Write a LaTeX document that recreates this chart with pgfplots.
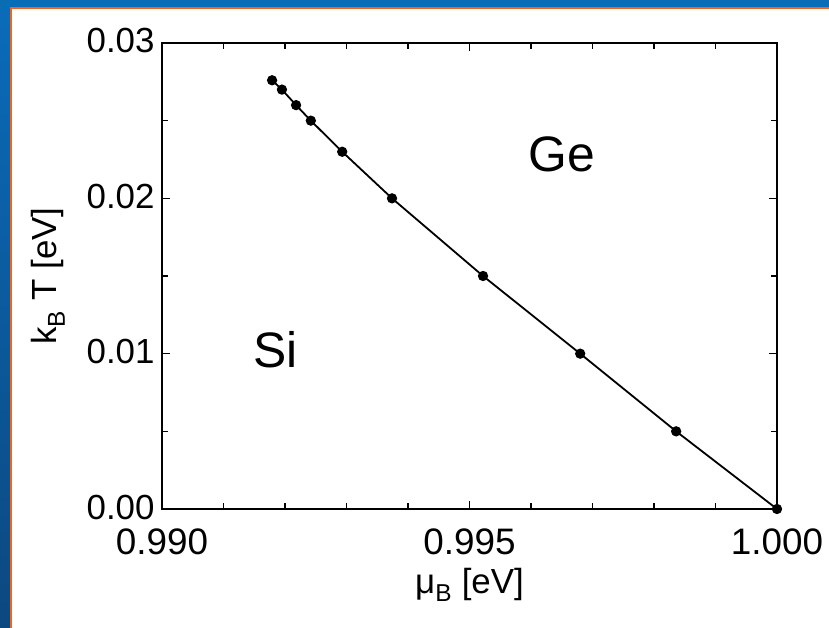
\documentclass[border=0pt]{standalone}
\usepackage{fontspec}
\setmainfont{Liberation Sans}
\usepackage{pgfplots}
\pgfplotsset{compat=1.18}
\usetikzlibrary{shadings}
\definecolor{frameblueA}{RGB}{10,108,185}
\definecolor{frameblueB}{RGB}{12,72,128}
\definecolor{frameorange}{RGB}{240,100,30}
\begin{document}
\begin{tikzpicture}
\useasboundingbox (0bp,0bp) rectangle (829bp,628bp);
\fill[white] (0bp,0bp) rectangle (829bp,628bp);
\shade[top color=frameblueA, bottom color=frameblueB] (0bp,0bp) rectangle (10bp,628bp);
\fill[frameblueA] (0bp,621bp) rectangle (829bp,628bp);
\fill[frameorange] (10bp,0bp) rectangle (12bp,621bp);
\fill[frameorange] (10bp,619bp) rectangle (829bp,621bp);
\begin{axis}[
  at={(162bp,119bp)}, anchor=south west,
  scale only axis, width=615bp, height=466bp,
  xmin=0.990, xmax=1.000, ymin=0, ymax=0.03,
  xtick={0.990,0.995,1.000}, minor x tick num=4,
  ytick={0,0.01,0.02,0.03}, minor y tick num=1,
  tick align=inside, major tick length=8bp, minor tick length=6bp,
  every tick/.style={black, line width=1.2bp},
  axis line style={line width=2.2bp},
  scaled x ticks=false, scaled y ticks=false,
  /pgf/number format/assume math mode=true,
  xticklabel style={font=\fontsize{37}{37}\selectfont, yshift=-16bp,
    /pgf/number format/fixed, /pgf/number format/fixed zerofill, /pgf/number format/precision=3},
  yticklabel style={font=\fontsize{35}{35}\selectfont, xshift=-4bp, yshift=2bp,
    /pgf/number format/fixed, /pgf/number format/fixed zerofill, /pgf/number format/precision=2},
  xlabel={μ\textsubscript{B} [eV]}, ylabel={k\textsubscript{B} T [eV]},
  xlabel style={font=\fontsize{35}{35}\selectfont, at={(axis description cs:0.5,-0.162)}, anchor=center},
  ylabel style={font=\fontsize{35}{35}\selectfont, at={(axis description cs:-0.185,0.5)}, anchor=center},
  clip=false,
]
\addplot[black, line width=1.8bp, mark=*, mark size=4.2bp] coordinates {
  (0.99179,0.0276) (0.99195,0.0270) (0.99218,0.0260) (0.99242,0.0250)
  (0.99293,0.0230) (0.99374,0.0200) (0.99522,0.0150) (0.99680,0.0100)
  (0.99836,0.0050) (1.000,0.0)
};
\node[font=\fontsize{50}{50}\selectfont] at (axis cs:0.9965,0.0228) {Ge};
\node[font=\fontsize{50}{50}\selectfont] at (axis cs:0.99184,0.01024) {Si};
\end{axis}
\end{tikzpicture}
\end{document}
